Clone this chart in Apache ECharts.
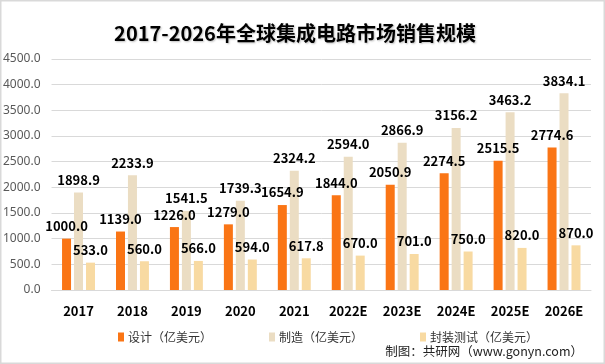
<!DOCTYPE html>
<html><head><meta charset="utf-8">
<script src="https://cdn.jsdelivr.net/npm/echarts@6/dist/echarts.min.js"></script>
<style>html,body{margin:0;padding:0;background:#fff}#c{width:605px;height:364px}</style>
</head><body><div id="c"></div>
<script>
const categories = ['2017','2018','2019','2020','2021','2022E','2023E','2024E','2025E','2026E'];
const design = [1000.0,1139.0,1226.0,1279.0,1654.9,1844.0,2050.9,2274.5,2515.5,2774.6];
const manufacture = [1898.9,2233.9,1541.5,1739.3,2324.2,2594.0,2866.9,3156.2,3463.2,3834.1];
const packaging = [533.0,560.0,566.0,594.0,617.8,670.0,701.0,750.0,820.0,870.0];
const seriesNames = ['设计（亿美元）','制造（亿美元）','封装测试（亿美元）'];
const colors = ['#FA7515','#EBDDC3','#F8DAA2'];
const chart = echarts.init(document.getElementById('c'));
const lbl = {show:true,position:'top',distance:6,color:'#000',fontWeight:'bold',fontSize:13,
  fontFamily:'Noto Sans CJK SC, sans-serif',formatter:p=>p.value.toFixed(1)};
function mk(i,data){return {name:seriesNames[i],type:'bar',data:data,barWidth:9,barGap:'33%',
  itemStyle:{color:colors[i]},label:lbl};}
chart.setOption({
  animation:false,
  title:{text:'2017-2026年全球集成电路市场销售规模',left:290,textAlign:'center',top:18,
    textStyle:{fontSize:20,fontWeight:'bold',color:'#000',fontFamily:'Noto Sans CJK SC, sans-serif',
    textShadowColor:'rgba(0,0,0,0.25)',textShadowBlur:2,textShadowOffsetX:1,textShadowOffsetY:1}},
  graphic:[
    {type:'rect',shape:{x:0.5,y:0.5,width:604,height:363},style:{fill:'none',stroke:'#d9d9d9',lineWidth:2},silent:true},
    {type:'text',right:22,top:345,style:{text:'制图：共研网（www.gonyn.com）',fontSize:12.5,fill:'#222',
      fontFamily:'Noto Sans CJK SC, sans-serif'}}
  ],
  legend:{data:seriesNames,top:326,left:113,itemWidth:6,itemHeight:9,itemGap:57,icon:'rect',
    textStyle:{fontSize:12,color:'#333',fontFamily:'Noto Sans CJK SC, sans-serif',padding:[0,0,0,-1]}},
  grid:{left:47,right:14,top:59,bottom:74},
  xAxis:{type:'category',data:categories,
    axisLine:{lineStyle:{color:'#d9d9d9'}},axisTick:{show:false},
    axisLabel:{color:'#000',fontWeight:'bold',fontSize:13,margin:15,fontFamily:'Noto Sans CJK SC, sans-serif'}},
  yAxis:{type:'value',min:0,max:4500,interval:500,
    axisLine:{show:false},axisTick:{show:false},
    splitLine:{lineStyle:{color:'#d9d9d9'}},
    axisLabel:{color:'#595959',fontSize:12,margin:11,formatter:v=>v.toFixed(1),fontFamily:'Noto Sans, sans-serif'}},
  series:[mk(0,design),mk(1,manufacture),mk(2,packaging)]
});
</script></body></html>
